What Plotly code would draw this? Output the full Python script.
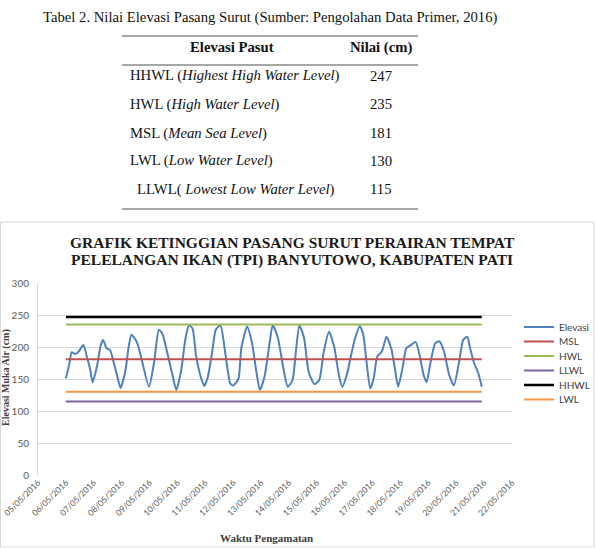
import plotly.graph_objects as go

W, H = 596, 548

# ---------------- data ----------------
table_title = "Tabel 2. Nilai Elevasi Pasang Surut (Sumber: Pengolahan Data Primer, 2016)"
table_header = ["Elevasi Pasut", "Nilai (cm)"]
level_codes = ["HHWL", "HWL", "MSL", "LWL", "LLWL"]
level_names = ["Highest High Water Level", "High Water Level", "Mean Sea Level",
               "Low Water Level", "Lowest Low Water Level"]
level_values = [247, 235, 181, 130, 115]

chart_title = ["GRAFIK KETINGGIAN PASANG SURUT PERAIRAN TEMPAT",
               "PELELANGAN IKAN (TPI) BANYUTOWO, KABUPATEN PATI"]
x_title = "Waktu Pengamatan"
y_title = "Elevasi Muka Air (cm)"

elev_time = [
    "2016-05-06 00:00", "2016-05-06 03:00", "2016-05-06 05:00", "2016-05-06 08:00",
    "2016-05-06 11:00", "2016-05-06 15:00", "2016-05-06 18:00", "2016-05-06 21:00",
    "2016-05-06 23:00", "2016-05-07 03:00", "2016-05-07 06:00", "2016-05-07 08:00",
    "2016-05-07 11:00", "2016-05-07 14:00", "2016-05-07 17:00", "2016-05-07 20:00",
    "2016-05-07 23:00", "2016-05-08 03:00", "2016-05-08 06:00", "2016-05-08 08:30",
    "2016-05-08 13:00", "2016-05-08 17:00", "2016-05-08 23:30", "2016-05-09 04:00",
    "2016-05-09 08:00", "2016-05-09 11:00", "2016-05-09 16:00", "2016-05-09 20:00",
    "2016-05-09 23:00", "2016-05-10 03:00", "2016-05-10 07:00", "2016-05-10 10:00",
    "2016-05-10 13:00", "2016-05-10 16:00", "2016-05-10 20:00", "2016-05-10 23:00",
    "2016-05-11 02:00", "2016-05-11 06:00", "2016-05-11 09:00", "2016-05-11 13:00",
    "2016-05-11 17:00", "2016-05-11 21:30", "2016-05-12 00:00", "2016-05-12 04:30",
    "2016-05-12 07:00", "2016-05-12 12:00", "2016-05-12 16:00", "2016-05-12 20:00",
    "2016-05-12 23:00", "2016-05-13 03:00", "2016-05-13 07:30", "2016-05-13 10:00",
    "2016-05-13 14:30", "2016-05-13 19:00", "2016-05-13 23:00", "2016-05-14 03:00",
    "2016-05-14 06:00", "2016-05-14 09:00", "2016-05-14 13:00", "2016-05-14 17:00",
    "2016-05-14 22:00", "2016-05-15 02:00", "2016-05-15 06:00", "2016-05-15 10:30",
    "2016-05-15 15:00", "2016-05-15 19:00", "2016-05-15 22:00", "2016-05-16 02:00",
    "2016-05-16 05:30", "2016-05-16 09:00", "2016-05-16 13:00", "2016-05-16 16:00",
    "2016-05-16 18:30", "2016-05-16 22:00", "2016-05-17 01:00", "2016-05-17 04:00",
    "2016-05-17 08:00", "2016-05-17 12:00", "2016-05-17 16:00", "2016-05-17 19:00",
    "2016-05-17 22:00", "2016-05-18 02:00", "2016-05-18 05:00", "2016-05-18 09:00",
    "2016-05-18 13:00", "2016-05-18 16:30", "2016-05-18 20:00", "2016-05-18 22:30",
    "2016-05-19 02:00", "2016-05-19 06:00", "2016-05-19 09:30", "2016-05-19 13:30",
    "2016-05-19 18:00", "2016-05-19 22:00", "2016-05-20 02:30", "2016-05-20 06:00",
    "2016-05-20 09:30", "2016-05-20 12:00", "2016-05-20 15:00", "2016-05-20 19:00",
    "2016-05-20 22:00",
]
elev_value = [
    151, 174, 192, 189, 193, 203, 185, 164,
    145, 172, 203, 211, 198, 195, 177, 156,
    136, 161, 200, 219, 208, 182, 138, 177,
    227, 221, 185, 154, 133, 161, 214, 234,
    229, 187, 154, 139, 152, 193, 227, 234,
    193, 143, 140, 150, 198, 232, 208, 161,
    133, 154, 208, 234, 214, 169, 138, 148,
    193, 234, 214, 161, 142, 148, 193, 224,
    200, 156, 138, 158, 187, 214, 233, 219,
    182, 135, 151, 185, 193, 216, 198, 169,
    138, 169, 198, 203, 208, 187, 156, 145,
    177, 206, 209, 193, 156, 140, 177, 211,
    216, 198, 177, 159, 138,
]

legend_order = ["Elevasi", "MSL", "HWL", "LLWL", "HHWL", "LWL"]
line_colors = {"Elevasi": "#4F81BD", "MSL": "#C0504D", "HWL": "#9BBB59",
               "LLWL": "#8064A2", "HHWL": "#000000", "LWL": "#F79646"}

x_start, x_end = "2016-05-04 23:58", "2016-05-22 00:02"
tick_start = "2016-05-05"


def px(x):
    return x / W


def py(y):
    return 1 - y / H


serif = "Liberation Serif, Times New Roman, serif"
sans = "Lato, Open Sans, sans-serif"

fig = go.Figure()
legend_layouts = {}
legend_row_y = [327, 341.5, 356, 370.5, 385, 399.5]
for i, name in enumerate(legend_order):
    lname = "legend" if i == 0 else "legend%d" % (i + 1)
    legend_layouts[lname] = dict(
        x=px(519), y=py(legend_row_y[i]), xanchor="left", yanchor="middle",
        font=dict(family=sans, size=10, color="#404040"),
        bgcolor="rgba(0,0,0,0)", itemwidth=30)
    if name == "Elevasi":
        fig.add_trace(go.Scatter(
            x=elev_time, y=elev_value, mode="lines", name=name, legend=lname,
            line=dict(color=line_colors[name], width=2, shape="spline", smoothing=0.6),
        ))
    else:
        v = level_values[level_codes.index(name)]
        fig.add_trace(go.Scatter(
            x=[elev_time[0], elev_time[-1]], y=[v, v], mode="lines", name=name,
            legend=lname,
            line=dict(color=line_colors[name], width=2.5 if name == "HHWL" else 2),
        ))

annotations = []
shapes = []

# ---------------- table ----------------
tfs = 14.7
annotations.append(dict(text=table_title, x=px(270), y=py(17), xref="paper", yref="paper",
                        showarrow=False, xanchor="center", yanchor="middle",
                        font=dict(family=serif, size=tfs, color="#111")))
for txt, cx in zip(table_header, [232, 381]):
    annotations.append(dict(text="<b>%s</b>" % txt, x=px(cx), y=py(47),
                            xref="paper", yref="paper", showarrow=False,
                            xanchor="center", yanchor="middle",
                            font=dict(family=serif, size=tfs, color="#111")))
row_y = [76, 104, 133, 161, 189]
for i, (c, n, v) in enumerate(zip(level_codes, level_names, level_values)):
    if c == "LLWL":
        label = "%s( <i>%s</i>)" % (c, n)
        lx = 135
    else:
        label = "%s (<i>%s</i>)" % (c, n)
        lx = 128
    annotations.append(dict(text=label, x=px(lx), y=py(row_y[i]), xref="paper", yref="paper",
                            showarrow=False, xanchor="left", yanchor="middle",
                            font=dict(family=serif, size=tfs, color="#111")))
    annotations.append(dict(text=str(v), x=px(381), y=py(row_y[i]), xref="paper", yref="paper",
                            showarrow=False, xanchor="center", yanchor="middle",
                            font=dict(family=serif, size=tfs, color="#111")))
for ry in [36, 65, 209]:
    shapes.append(dict(type="line", xref="paper", yref="paper",
                       x0=px(122), x1=px(418), y0=py(ry), y1=py(ry),
                       line=dict(color="#8a8a8a", width=1.5)))

# ---------------- chart frame & titles ----------------
shapes.append(dict(type="rect", xref="paper", yref="paper",
                   x0=px(0.5), x1=px(594), y0=py(222), y1=py(547),
                   line=dict(color="#d9d9d9", width=1), layer="below"))
for txt, ty in zip(chart_title, [242, 260]):
    annotations.append(dict(
        text="<b>%s</b>" % txt, x=px(292), y=py(ty), xref="paper", yref="paper",
        showarrow=False, xanchor="center", yanchor="middle",
        font=dict(family=serif, size=15.5, color="#1a1a1a")))
annotations.append(dict(text="<b>%s</b>" % x_title, x=px(266), y=py(538),
                        xref="paper", yref="paper", showarrow=False,
                        xanchor="center", yanchor="middle",
                        font=dict(family=serif, size=11, color="#404040")))
annotations.append(dict(text="<b>%s</b>" % y_title, x=px(6), y=py(378),
                        xref="paper", yref="paper", showarrow=False, textangle=-90,
                        xanchor="center", yanchor="middle",
                        font=dict(family=serif, size=10, color="#404040")))

fig.update_layout(
    width=W, height=H, autosize=False,
    margin=dict(l=0, r=0, t=0, b=0, autoexpand=False),
    paper_bgcolor="white", plot_bgcolor="white",
    showlegend=True,
    annotations=annotations, shapes=shapes,
    xaxis=dict(domain=[px(38), px(512)], range=[x_start, x_end], type="date",
               dtick=86400000, tick0=tick_start, tickformat="%d/%m/%Y", tickangle=-45,
               showgrid=False, showline=False, zeroline=False, ticks="",
               automargin=False, ticklabeloverflow="allow",
               tickfont=dict(family=sans, size=8.5, color="#595959")),
    yaxis=dict(domain=[py(475), py(283)], range=[0, 300], dtick=50,
               showgrid=True, gridcolor="#d9d9d9", gridwidth=1,
               showline=True, linecolor="#d9d9d9", zeroline=False, ticks="",
               automargin=False, ticklabelstandoff=6,
               tickfont=dict(family=sans, size=10, color="#595959")),
    **legend_layouts,
)

fig.write_html("out.html")
